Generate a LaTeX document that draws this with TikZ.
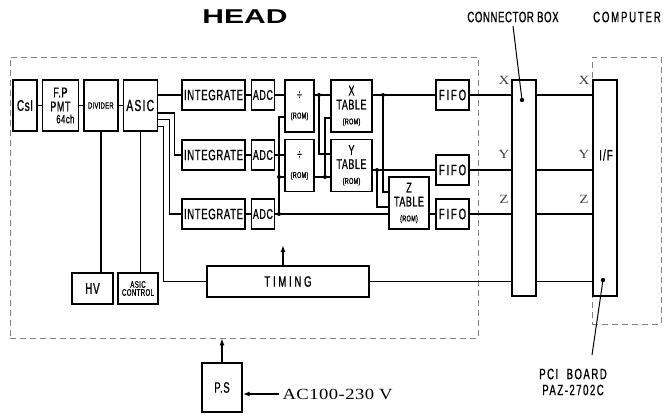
\documentclass[tikz,border=0pt]{standalone}
\usepackage{fontspec}
\setmainfont{Liberation Sans}
\newfontfamily\gothic{Liberation Sans}[FakeStretch=0.64,LetterSpace=4,FakeBold=0.9]
\newfontfamily\widefont{Liberation Sans}[FakeStretch=1.5]
\newfontfamily\mincho{Liberation Serif}[FakeStretch=1.2]
\usetikzlibrary{arrows.meta,positioning,calc}

\begin{document}
\begin{tikzpicture}[x=1pt, y=-1pt,
    box/.style={draw, line width=1.4pt, fill=white, inner sep=0pt, align=center, font=\gothic\fontsize{14}{15}\selectfont},
    tall/.style={box, minimum width=#1, minimum height=51pt},
    row/.style={box, minimum width=#1, minimum height=30pt},
    rom/.style={box, minimum width=#1, minimum height=52pt},
    dashbox/.style={draw=gray, line width=0.8pt, dash pattern=on 6pt off 4pt},
    wire/.style={line width=1.4pt},
    arr/.style={-{Latex[length=7pt,width=5pt]}, line width=1.4pt},
    ptr/.style={line width=1pt},
    title/.style={font=\gothic\fontsize{15}{15}\selectfont, align=center},
    xyz/.style={font=\mincho\fontsize{12.5}{12}\selectfont, text=black!75}
]
\useasboundingbox (0,0) rectangle (665,415);

\node[dashbox, minimum width=468pt, minimum height=281pt] (head) at (244,197.5) {};
\node[dashbox, minimum width=69pt, minimum height=267pt] (comp) at (626.5,190.5) {};

\node[font=\widefont\bfseries\fontsize{20}{20}\selectfont] (headt) at (245,17) {HEAD};
\node[title] (cbt) at (513,17) {CONNECTOR BOX};
\node[title, font=\gothic\fontsize{15}{15}\selectfont\addfontfeature{LetterSpace=12}] (compt) at (627,17) {COMPUTER};

\node[tall=24pt, font=\gothic\fontsize{15.5}{15}\selectfont] (csi) at (25,105.5) {CsI};
\node[tall=36pt, right=4pt of csi] (pmt) {F.P\\[-1pt]PMT\\[-3pt]\hspace{10pt}{\fontsize{12}{12}\selectfont 64ch}};
\node[tall=34pt, right=4pt of pmt, font=\gothic\fontsize{9}{9}\selectfont] (divider) {DIVIDER};
\node[tall=34pt, right=4pt of divider, font=\gothic\fontsize{16}{16}\selectfont\addfontfeature{LetterSpace=8}] (asic) {ASIC};

\node[row=63pt, font=\gothic\fontsize{15}{15}\selectfont] (int1) at (213.5,95) {INTEGRATE};
\node[row=63pt, font=\gothic\fontsize{15}{15}\selectfont] (int2) at (213.5,155) {INTEGRATE};
\node[row=63pt, font=\gothic\fontsize{15}{15}\selectfont] (int3) at (213.5,214) {INTEGRATE};
\node[row=23pt, right=5pt of int1, font=\gothic\fontsize{14}{14}\selectfont] (adc1) {ADC};
\node[row=23pt, right=5pt of int2, font=\gothic\fontsize{14}{14}\selectfont] (adc2) {ADC};
\node[row=23pt, right=5pt of int3, font=\gothic\fontsize{14}{14}\selectfont] (adc3) {ADC};

\node[rom=29pt] (div1) at (299.5,106) {÷\\[4pt]{\fontsize{8.5}{9}\selectfont (ROM)}};
\node[rom=29pt] (div2) at (299.5,165.5) {÷\\[4pt]{\fontsize{8.5}{9}\selectfont (ROM)}};
\node[rom=41pt] (xtab) at (351.5,106) {X\\[-1pt]TABLE\\{\fontsize{8.5}{9}\selectfont (ROM)}};
\node[rom=41pt] (ytab) at (351.5,165.5) {Y\\[-1pt]TABLE\\{\fontsize{8.5}{9}\selectfont (ROM)}};
\node[rom=40pt] (ztab) at (409,203) {Z\\[-1pt]TABLE\\{\fontsize{8.5}{9}\selectfont (ROM)}};

\node[row=33pt, font=\gothic\fontsize{15}{15}\selectfont\addfontfeature{LetterSpace=12}] (fifo1) at (452.5,95) {FIFO};
\node[row=33pt, font=\gothic\fontsize{15}{15}\selectfont\addfontfeature{LetterSpace=12}] (fifo2) at (452.5,170) {FIFO};
\node[row=33pt, font=\gothic\fontsize{15}{15}\selectfont\addfontfeature{LetterSpace=12}] (fifo3) at (452.5,214) {FIFO};

\node[box, minimum width=24pt, minimum height=216pt] (cbox) at (524,188) {};
\node[box, minimum width=24pt, minimum height=216pt] (iface) at (605,188) {};
\node[font=\gothic\fontsize{15}{15}\selectfont\addfontfeature{LetterSpace=8}] (iftext) at (606,155) {I/F};

\node[box, minimum width=162pt, minimum height=31pt, font=\gothic\fontsize{15}{15}\selectfont\addfontfeature{LetterSpace=18}] (timing) at (288,281.5) {TIMING};
\node[box, minimum width=41pt, minimum height=31pt, font=\gothic\fontsize{15.5}{15}\selectfont] (hv) at (92.5,288.5) {HV};
\node[box, minimum width=40pt, minimum height=31pt, font=\gothic\fontsize{9.5}{8}\selectfont] (actrl) at (138,288.5) {ASIC\\CONTROL};
\node[box, minimum width=40pt, minimum height=49pt, font=\gothic\fontsize{15}{15}\selectfont] (ps) at (222,387.5) {P.S};
\node[anchor=west, font=\mincho\fontsize{15.5}{16}\selectfont\addfontfeature{LetterSpace=3}] (ac) at (279,394) {AC100-230 V};

\foreach \s/\y in {X/80,Y/154,Z/199} {
  \node[xyz] (l\s) at (504,\y) {\s};
  \node[xyz] (r\s) at (584,\y) {\s};
}

\coordinate (j1) at (319,95);
\coordinate (j2) at (325,177);
\coordinate (j3) at (279,214);
\coordinate (j4) at (279,177);
\coordinate (jx) at (383,95);
\coordinate (jy) at (377,170);
\coordinate (tclk) at (283,245);
\coordinate (cdot) at (522,100);
\coordinate (pdot) at (603,280);
\coordinate (pcitip) at (592,355);

\draw[wire] (csi) -- (pmt);
\draw[wire] (pmt) -- (divider);
\draw[wire] (divider) -- (asic);
\draw[wire] (int1.west -| asic.east) -- (int1.west);
\draw[wire] ([yshift=-7.5pt]asic.east) -| ([xshift=-7pt]int2.west) -- (int2.west);
\draw[wire] ([yshift=-14pt]asic.east) -| ([xshift=-12pt]int3.west) -- (int3.west);
\draw[wire] ([yshift=-21pt]asic.east) -| ([xshift=-43pt]timing.west) -- (timing.west);
\draw[wire] (divider.south) -- (divider.south |- hv.north);
\draw[wire] (asic.south) -- (asic.south |- actrl.north);

\foreach \i in {1,2,3} \draw[wire] (int\i) -- (adc\i);
\draw[wire] (adc1.east) -- (adc1.east -| div1.west);
\draw[wire] (adc2.east) -- (adc2.east -| div2.west);
\draw[wire] (adc3.east) -- (adc3.east -| ztab.west);
\draw[wire] (j3) |- ([yshift=-11pt]div1.west);
\draw[wire] (j4) -- (j4 -| div2.west);
\draw[wire] (j1 -| div1.east) -- (j1 -| xtab.west);
\draw[wire] (j1) |- ([yshift=11.5pt]ytab.west);
\draw[wire] (j2 -| div2.east) -- (j2 -| ytab.west);
\draw[wire] (j2) |- ([yshift=-12pt]xtab.west);
\draw[wire] (fifo1.west -| xtab.east) -- (fifo1.west);
\draw[wire] (fifo2.west -| ytab.east) -- (fifo2.west);
\draw[wire] (jx) |- ([yshift=11pt]ztab.west);
\draw[wire] (jy) |- ([yshift=-4pt]ztab.west);
\draw[wire] (fifo3.west -| ztab.east) -- (fifo3.west);

\foreach \i in {1,2,3} {
  \draw[wire] (fifo\i.east) -- (fifo\i.east -| cbox.west);
  \draw[wire] (fifo\i.east -| cbox.east) -- (fifo\i.east -| iface.west);
}
\draw[wire] (timing.east) -- (timing.east -| cbox.west);
\draw[wire] (timing.east -| cbox.east) -- (timing.east -| iface.west);

\foreach \j in {j1,j2,j3,j4,jx,jy} \fill (\j) circle (2pt);

\draw[arr] (tclk |- timing.north) -- (tclk);
\draw[arr] (ps.north) -- (ps.north |- head.south);
\draw[arr] (ac.west) -- (ac.west -| ps.east);

\fill (cdot) circle (2.2pt);
\draw[ptr] (cbt.south) -- (cdot);
\fill (pdot) circle (2.2pt);
\draw[ptr] (pdot) -- (pcitip);
\node[title, font=\gothic\fontsize{15}{16}\selectfont\addfontfeature{LetterSpace=10}] (pci) at (573,382) {PCI\ \ BOARD\\PAZ-2702C};
\end{tikzpicture}
\end{document}
